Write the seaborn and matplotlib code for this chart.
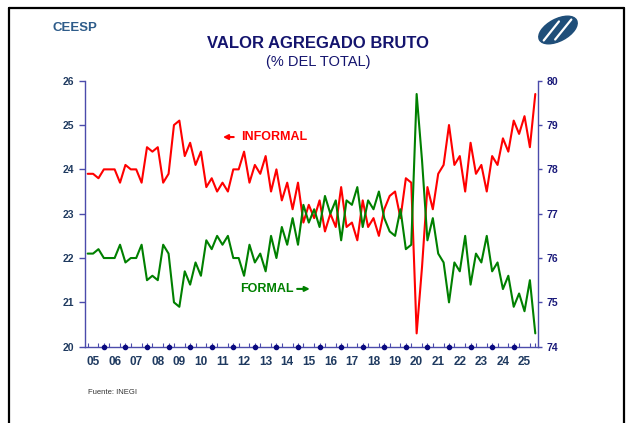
import numpy as np
import pandas as pd
import seaborn as sns
import matplotlib.pyplot as plt
from matplotlib.patches import Ellipse

# quarterly shares of gross value added, 2005Q1 ...
years = [f"{y:02d}" for y in range(5, 26)]
informal = [23.9, 23.9, 23.8, 24.0, 24.0, 24.0, 23.7, 24.1, 24.0, 24.0, 23.7, 24.5,
            24.4, 24.5, 23.7, 23.9, 25.0, 25.1, 24.3, 24.6, 24.1, 24.4, 23.6, 23.8,
            23.5, 23.7, 23.5, 24.0, 24.0, 24.4, 23.7, 24.1, 23.9, 24.3, 23.5, 24.0,
            23.3, 23.7, 23.1, 23.7, 22.8, 23.2, 22.9, 23.3, 22.6, 23.0, 22.7, 23.6,
            22.7, 22.8, 22.4, 23.3, 22.7, 22.9, 22.5, 23.1, 23.4, 23.5, 22.9, 23.8,
            23.7, 20.3, 21.8, 23.6, 23.1, 23.9, 24.1, 25.0, 24.1, 24.3, 23.5, 24.6,
            23.9, 24.1, 23.5, 24.3, 24.1, 24.7, 24.4, 25.1, 24.8, 25.2, 24.5, 25.7]
formal = [76.1, 76.1, 76.2, 76.0, 76.0, 76.0, 76.3, 75.9, 76.0, 76.0, 76.3, 75.5,
          75.6, 75.5, 76.3, 76.1, 75.0, 74.9, 75.7, 75.4, 75.9, 75.6, 76.4, 76.2,
          76.5, 76.3, 76.5, 76.0, 76.0, 75.6, 76.3, 75.9, 76.1, 75.7, 76.5, 76.0,
          76.7, 76.3, 76.9, 76.3, 77.2, 76.8, 77.1, 76.7, 77.4, 77.0, 77.3, 76.4,
          77.3, 77.2, 77.6, 76.7, 77.3, 77.1, 77.5, 76.9, 76.6, 76.5, 77.1, 76.2,
          76.3, 79.7, 78.2, 76.4, 76.9, 76.1, 75.9, 75.0, 75.9, 75.7, 76.5, 75.4,
          76.1, 75.9, 76.5, 75.7, 75.9, 75.3, 75.6, 74.9, 75.2, 74.8, 75.5, 74.3]
left_ticks = [20, 21, 22, 23, 24, 25, 26]
right_ticks = [74, 75, 76, 77, 78, 79, 80]

t = np.arange(len(informal))
df = pd.DataFrame({"t": t, "informal": informal, "formal": formal})

sns.set_style("white")
plt.rcParams['font.family'] = ['Liberation Sans', 'DejaVu Sans']

axc = '#4b4bab'
fig = plt.figure(figsize=(6.29, 4.23), dpi=100)
ax = fig.add_axes([0.1351, 0.1804, 0.7202, 0.6288])
ax2 = ax.twinx()

sns.lineplot(data=df, x="t", y="informal", color="#ff0000", lw=1.5, ax=ax)
sns.lineplot(data=df, x="t", y="formal", color="#008000", lw=1.5, ax=ax2)

ax.set_xlim(-0.5, len(informal) - 0.5)
ax.set_ylim(left_ticks[0], left_ticks[-1])
ax2.set_ylim(right_ticks[0], right_ticks[-1])
for a in (ax, ax2):
    a.set_xlabel("")
    a.set_ylabel("")
    a.grid(False)
    for s in a.spines.values():
        s.set_color(axc)
        s.set_linewidth(1.0)
    a.spines['top'].set_visible(False)
ax.spines['right'].set_visible(False)
ax2.spines['left'].set_visible(False)
ax2.spines['bottom'].set_visible(False)

ax.set_yticks(left_ticks)
ax.set_yticklabels([str(v) for v in left_ticks], fontsize=7.5, fontweight='bold', color='#1f3a60')
ax.tick_params(axis='y', direction='out', length=4, width=1, color=axc, pad=4, left=True)
ax2.set_yticks(right_ticks)
ax2.set_yticklabels([str(v) for v in right_ticks], fontsize=7.5, fontweight='bold', color='#1a1a7a')
ax2.tick_params(axis='y', direction='out', length=3, width=1, color=axc, pad=3, right=True)

ax.set_xticks(t[1::4])
ax.set_xticklabels(years, fontsize=8.5, fontweight='bold', color='#1f3a60')
ax.set_xticks(t, minor=True)
ax.tick_params(axis='x', which='major', length=0, pad=7, bottom=True)
ax.tick_params(axis='x', which='minor', direction='in', length=3, width=0.8, color=axc, bottom=True)
dots = t[3::4][:len(years) - 1]
ax.plot(dots, [left_ticks[0]] * len(dots), 'o', color='#0a0a80', ms=3, clip_on=False, zorder=5)

# labels
ax.text(0.383, 0.676, "INFORMAL", transform=fig.transFigure, color='#ff0000',
        fontsize=9, fontweight='bold', va='center', ha='left')
ax.annotate('', xy=(0.350, 0.676), xytext=(0.376, 0.676), xycoords='figure fraction',
            arrowprops=dict(arrowstyle='-|>', color='#ff0000', lw=1.5, mutation_scale=7))
ax.text(0.381, 0.317, "FORMAL", transform=fig.transFigure, color='#008000',
        fontsize=9, fontweight='bold', va='center', ha='left')
ax.annotate('', xy=(0.497, 0.317), xytext=(0.468, 0.317), xycoords='figure fraction',
            arrowprops=dict(arrowstyle='-|>', color='#008000', lw=1.5, mutation_scale=7))

fig.text(0.506, 0.898, "VALOR AGREGADO BRUTO", ha='center', va='center',
         fontsize=12, fontweight='bold', color='#14146e')
fig.text(0.506, 0.853, "(% DEL TOTAL)", ha='center', va='center',
         fontsize=10.5, color='#14146e')
fig.text(0.083, 0.934, "CEESP", ha='left', va='center', fontsize=9.5,
         fontweight='bold', color='#2e5c8a')
fig.text(0.140, 0.073, "Fuente: INEGI", ha='left', va='center', fontsize=5.5, color='#333333')

# frame
fig.add_artist(plt.Line2D([0.015, 0.015], [0.0, 0.982], color='black', lw=1.6))
fig.add_artist(plt.Line2D([0.015, 0.992], [0.982, 0.982], color='black', lw=1.6))
fig.add_artist(plt.Line2D([0.992, 0.992], [0.0, 0.982], color='black', lw=1.6))

# logo
lg = fig.add_axes([535 / 629, 1 - 46 / 423, 46 / 629, 32 / 423])
lg.set_xlim(-1.2, 1.2)
lg.set_ylim(-0.84, 0.84)
lg.set_aspect('equal')
lg.axis('off')
lg.add_patch(Ellipse((0, 0), 2.2, 1.15, angle=28, color='#1f4e79'))
lg.plot([-0.75, 0.05], [-0.55, 0.45], color='white', lw=1.6)
lg.plot([-0.15, 0.7], [-0.5, 0.55], color='white', lw=1.6)

fig.savefig("out.png", dpi=100)
